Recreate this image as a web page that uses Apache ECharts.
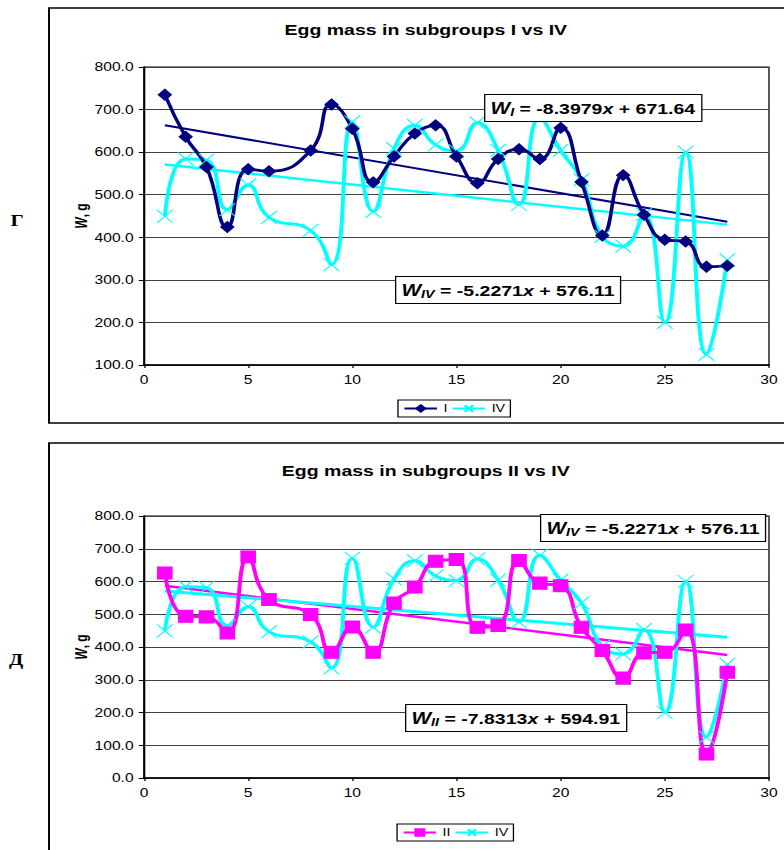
<!DOCTYPE html>
<html>
<head>
<meta charset="utf-8">
<script src="https://cdn.jsdelivr.net/npm/echarts@6/dist/echarts.min.js"></script>
<style>
html,body{margin:0;padding:0;background:#fff;overflow:hidden;width:784px;height:850px;}
#chart{width:603px;height:850px;transform:scaleX(1.30017);transform-origin:0 0;}
</style>
</head>
<body>
<div id="chart"></div>
<script>
// ---- data ----
var xDays = [1,2,3,4,5,6,8,9,10,11,12,13,14,15,16,17,18,19,20,21,22,23,24,25,26,27,28];
var massI  = [735,636,565,424,560,555,604,712,655,529,590,644,663,590,527,584,607,584,657,530,404,546,453,394,390,331,333];
var massII = [626,494,492,443,675,545,499,384,461,384,534,583,662,667,460,466,664,595,587,460,389,305,382,384,452,73,323];
var massIV = [449,584,581,465,523,447,416,336,671,461,608,663,617,603,669,604,477,680,604,535,402,379,453,200,600,125,347];
var trendI  = [-8.3979, 671.64];
var trendII = [-7.8313, 594.91];
var trendIV = [-5.2271, 576.11];
var trendX  = [1, 28];

function pairs(xs, ys){ return xs.map(function(x,i){ return [x, ys[i]]; }); }
function trendLine(c){ return trendX.map(function(x){ return [x, c[0]*x + c[1]]; }); }

var NAVY = '#000080', CYAN = '#00FFFF', MAG = '#FF00FF';
var crossPath = 'path://M0,0L10,10M10,0L0,10';
var FONT = 'Liberation Sans, Arial, sans-serif';

var chart = echarts.init(document.getElementById('chart'), null, {renderer:'svg'});

function mkX(gi){
  return {
    type:'value', gridIndex:gi, min:0, max:30, interval:5,
    axisLine:{show:true, lineStyle:{color:'#000', width:1.5}},
    axisTick:{show:true, length:3, lineStyle:{color:'#000'}},
    axisLabel:{color:'#000', fontSize:12, fontFamily:FONT, margin:9},
    splitLine:{show:false}
  };
}
function mkY(gi, min){
  return {
    type:'value', gridIndex:gi, min:min, max:800, interval:100,
    name:'{i|W}{n|, g}', nameLocation:'middle', nameRotate:90, nameGap:42,
    nameMoveOverlap:false,
    nameTextStyle:{rich:{
      i:{fontFamily:FONT, fontSize:12, fontWeight:'bold', fontStyle:'italic', color:'#000'},
      n:{fontFamily:FONT, fontSize:12, fontWeight:'bold', color:'#000'}
    }},
    axisLine:{show:true, lineStyle:{color:'#000', width:1.5}},
    axisTick:{show:true, length:4, lineStyle:{color:'#000'}},
    axisLabel:{color:'#000', fontSize:12, fontFamily:FONT, margin:8,
      formatter:function(v){ return v.toFixed(1); }},
    splitLine:{show:true, lineStyle:{color:'#404040', width:1}}
  };
}

var richEq = {
  w:{fontFamily:FONT, fontSize:16, fontWeight:'bold', fontStyle:'italic', color:'#000', lineHeight:19},
  s:{fontFamily:FONT, fontSize:11, fontWeight:'bold', fontStyle:'italic', color:'#000', lineHeight:19, padding:[7,0,0,0]},
  t:{fontFamily:FONT, fontSize:15, fontWeight:'bold', color:'#000', lineHeight:19},
  x:{fontFamily:FONT, fontSize:15, fontWeight:'bold', fontStyle:'italic', color:'#000', lineHeight:19}
};
function eqTitle(sub, c, left, top){
  var a = c[0].toFixed(4), b = c[1].toFixed(2);
  return {
    text:'{w|W}{s|' + sub + '}{t| = ' + a + '}{x|x}{t| + ' + b + '}',
    left:left, top:top, padding:[5,5,4,5],
    borderColor:'#000', borderWidth:1, backgroundColor:'#fff',
    textStyle:{rich:richEq}
  };
}

function lineSeries(name, data, xi, color, symbol, size, width){
  return {
    name:name, type:'line', xAxisIndex:xi, yAxisIndex:xi, data:data,
    smooth:0.5, symbol:symbol, symbolSize:size, showSymbol:true,
    lineStyle:{color:color, width:width},
    itemStyle:{color:color, borderColor:color, borderWidth:1},
    z:3
  };
}
function trendSeries(name, data, xi, color, width){
  return {
    name:name, type:'line', xAxisIndex:xi, yAxisIndex:xi, data:data,
    symbol:'none', lineStyle:{color:color, width:width}, z:2, silent:true
  };
}

var titleStyle = {fontFamily:FONT, fontSize:15, fontWeight:'bold', color:'#000'};
var serifStyle = {fontFamily:'Liberation Serif, DejaVu Serif, serif', fontSize:16, fontWeight:'bold', color:'#000'};

var option = {
  backgroundColor:'#fff',
  animation:false,
  title:[
    {text:'Egg mass in subgroups I vs IV', left:322.5, top:17, textAlign:'center', textStyle:titleStyle},
    {text:'Egg mass in subgroups II vs IV', left:322.5, top:458, textAlign:'center', textStyle:titleStyle},
    eqTitle('I', trendI, 372.3, 94),
    eqTitle('IV', trendIV, 303.8, 276),
    eqTitle('IV', trendIV, 415.3, 514),
    eqTitle('II', trendII, 311.5, 704),
    {text:'Г', left:3, top:207, textStyle:serifStyle},
    {text:'Д', left:2, top:646, textStyle:serifStyle}
  ],
  graphic:[
    {type:'rect', shape:{x:37.7, y:8, width:620, height:415}, style:{fill:'none', stroke:'#000', lineWidth:1.5}, z:-10},
    {type:'rect', shape:{x:37.7, y:443, width:620, height:440}, style:{fill:'none', stroke:'#000', lineWidth:1.5}, z:-10}
  ],
  legend:[
    {data:['I','IV'], left:306.1, top:400, orient:'horizontal', padding:[3,4,3,4], itemGap:3,
     itemWidth:25, itemHeight:8, borderColor:'#000', borderWidth:1,
     textStyle:{fontFamily:FONT, fontSize:11, color:'#000'}},
    {data:['II','IV'], left:305.4, top:824, orient:'horizontal', padding:[3,4,3,4], itemGap:3,
     itemWidth:25, itemHeight:8, borderColor:'#000', borderWidth:1,
     textStyle:{fontFamily:FONT, fontSize:11, color:'#000'}}
  ],
  grid:[
    {left:110.75, top:67, width:480.7, height:298, show:true, borderColor:'#000', borderWidth:1, backgroundColor:'#fff'},
    {left:110.75, top:516, width:480.7, height:262, show:true, borderColor:'#000', borderWidth:1, backgroundColor:'#fff'}
  ],
  xAxis:[mkX(0), mkX(1)],
  yAxis:[mkY(0,100), mkY(1,0)],
  series:[
    trendSeries('Linear (I)', trendLine(trendI), 0, NAVY, 2),
    trendSeries('Linear (IV)', trendLine(trendIV), 0, CYAN, 2.5),
    lineSeries('IV', pairs(xDays, massIV), 0, CYAN, crossPath, [12,13], 3),
    lineSeries('I', pairs(xDays, massI), 0, NAVY, 'diamond', [10,11], 2.8),
    trendSeries('Linear (II)', trendLine(trendII), 1, MAG, 2.5),
    trendSeries('Linear (IV) ', trendLine(trendIV), 1, CYAN, 3),
    lineSeries('IV', pairs(xDays, massIV), 1, CYAN, crossPath, [12,13], 3),
    lineSeries('II', pairs(xDays, massII), 1, MAG, 'rect', [11,12], 3)
  ]
};
chart.setOption(option);
</script>
</body>
</html>
